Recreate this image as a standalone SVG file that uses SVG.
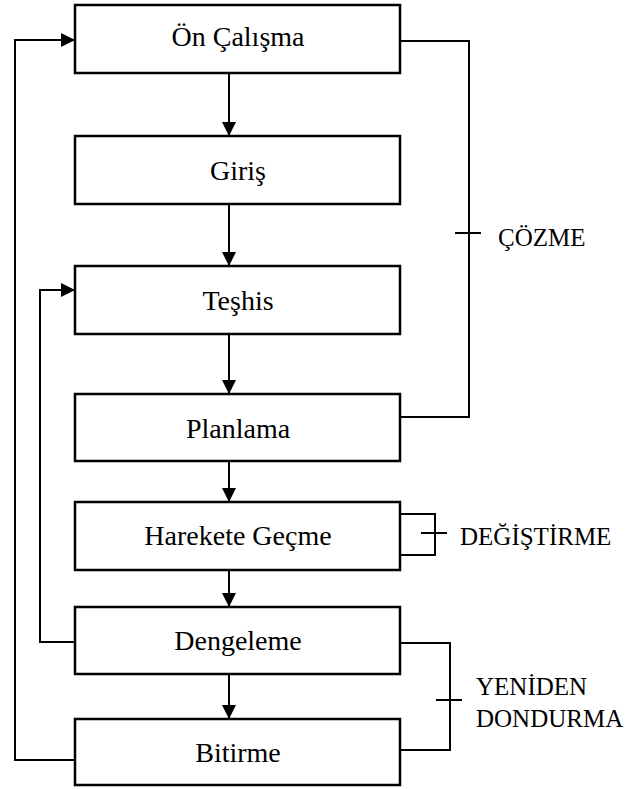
<svg xmlns="http://www.w3.org/2000/svg" width="628" height="789" viewBox="0 0 628 789">
<style>
.box{fill:#fff;stroke:#000;stroke-width:2.5}
.t{font-family:"Liberation Serif","Times New Roman",serif;font-size:28px;fill:#000;text-anchor:middle}
.lbl{font-family:"Liberation Serif","Times New Roman",serif;font-size:25px;fill:#000}
.c{fill:none;stroke:#000;stroke-width:2}
</style>
<defs>
<marker id="ah" markerUnits="userSpaceOnUse" markerWidth="14" markerHeight="14" refX="14" refY="7" orient="auto">
<path d="M0,0 L14,7 L0,14 z" fill="#000"/>
</marker>
</defs>
<rect width="628" height="789" fill="#fff"/>
<g id="connectors">
<path class="c" d="M229,73 V136" marker-end="url(#ah)"/>
<path class="c" d="M229,204 V266" marker-end="url(#ah)"/>
<path class="c" d="M229,334 V394" marker-end="url(#ah)"/>
<path class="c" d="M229,461 V502" marker-end="url(#ah)"/>
<path class="c" d="M229,570 V607" marker-end="url(#ah)"/>
<path class="c" d="M229,674 V719" marker-end="url(#ah)"/>
<path class="c" d="M75,760 H15 V40 H75" marker-end="url(#ah)"/>
<path class="c" d="M75,642 H40 V290 H75" marker-end="url(#ah)"/>
<path class="c" d="M400,41 H469 V417 H400"/>
<path class="c" d="M455,233 H481"/>
<path class="c" d="M400,514 H435 V555 H400"/>
<path class="c" d="M421,533 H447"/>
<path class="c" d="M400,643 H450 V750 H400"/>
<path class="c" d="M436,700 H462"/>
</g>
<g id="n1"><rect class="box" x="75" y="5" width="325" height="68"/><text class="t" x="238" y="46">Ön Çalışma</text></g>
<g id="n2"><rect class="box" x="75" y="136" width="325" height="68"/><text class="t" x="238" y="180">Giriş</text></g>
<g id="n3"><rect class="box" x="75" y="266" width="325" height="68"/><text class="t" x="238" y="310">Teşhis</text></g>
<g id="n4"><rect class="box" x="75" y="394" width="325" height="67"/><text class="t" x="238" y="438">Planlama</text></g>
<g id="n5"><rect class="box" x="75" y="502" width="325" height="68"/><text class="t" x="238" y="545">Harekete Geçme</text></g>
<g id="n6"><rect class="box" x="75" y="607" width="325" height="67"/><text class="t" x="238" y="650">Dengeleme</text></g>
<g id="n7"><rect class="box" x="75" y="719" width="325" height="66"/><text class="t" x="238" y="762">Bitirme</text></g>
<g id="labels">
<text class="lbl" x="498" y="246">ÇÖZME</text>
<text class="lbl" x="460" y="545">DEĞİŞTİRME</text>
<text class="lbl" x="476" y="695">YENİDEN</text>
<text class="lbl" x="476" y="727">DONDURMA</text>
</g>
</svg>
